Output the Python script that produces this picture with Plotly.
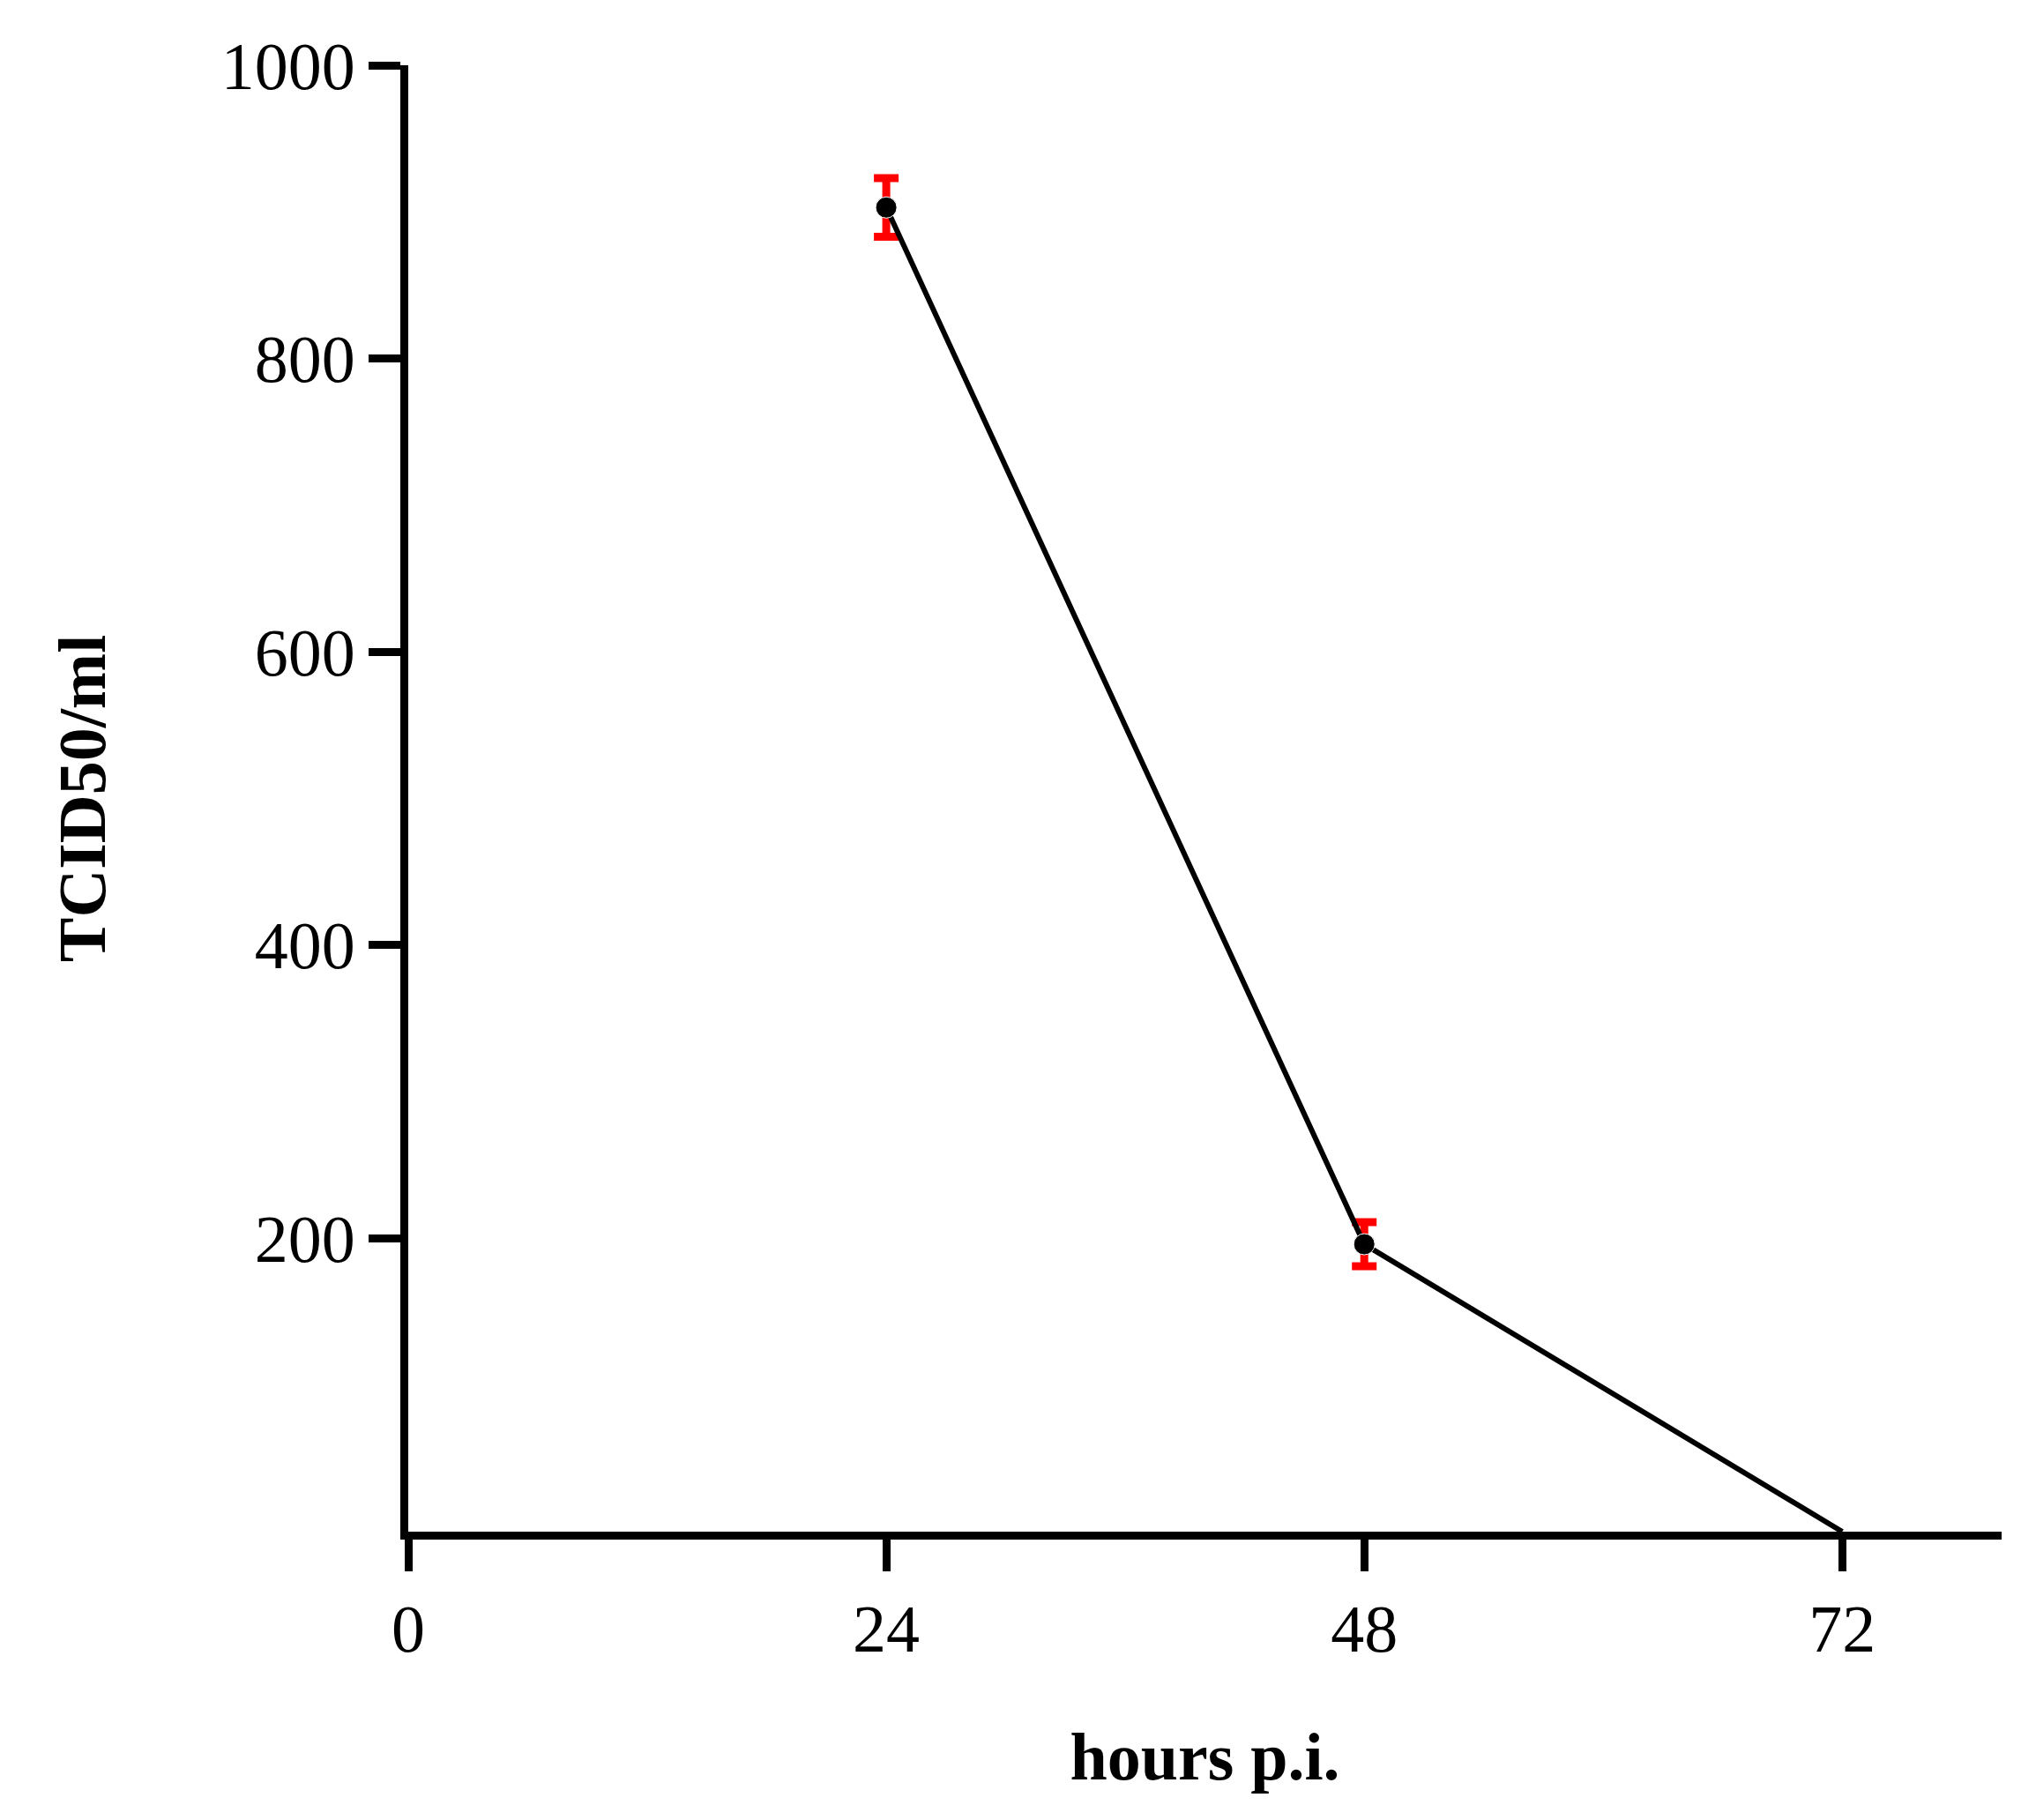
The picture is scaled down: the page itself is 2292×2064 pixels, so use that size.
import plotly.graph_objects as go

# data
hours = [24, 48, 72]
tcid50 = [903, 196, 0]
err = [20, 15, 0]

fig = go.Figure()

# red error bars (drawn first, under the points)
fig.add_trace(go.Scatter(
    x = hours[:2],
    y = tcid50[:2],
    mode = "markers",
    marker = dict(size = 1, color = "red", opacity = 0),
    error_y = dict(type = "data", array = err[:2], color = "red", thickness = 9, width = 14),
    showlegend = False))

# line with black points
fig.add_trace(go.Scatter(
    x = hours,
    y = tcid50,
    mode = "lines+markers",
    line = dict(color = "black", width = 6),
    marker = dict(color = "black", size = [24, 24, 0], opacity = 1),
    cliponaxis = False,
    showlegend = False))

font_family = "Liberation Serif, DejaVu Serif, serif"

fig.update_xaxes(
    range = [0, 80],
    tickvals = [0, 24, 48, 72],
    ticks = "outside", ticklen = 36, tickwidth = 9, tickcolor = "black",
    showline = True, linewidth = 9, linecolor = "black",
    showgrid = False, zeroline = False,
    tickfont = dict(size = 76, color = "black", family = font_family),
    title = dict(text = "<b>hours p.i.</b>", standoff = 80,
                 font = dict(size = 76, color = "black", family = font_family)))

fig.update_yaxes(
    range = [0, 1000],
    tickvals = [200, 400, 600, 800, 1000],
    ticks = "outside", ticklen = 36, tickwidth = 9, tickcolor = "black",
    showline = True, linewidth = 9, linecolor = "black",
    showgrid = False, zeroline = False,
    tickfont = dict(size = 76, color = "black", family = font_family),
    title = dict(text = "<b>TCID50/ml</b>", standoff = 110,
                 font = dict(size = 76, color = "black", family = font_family)))

fig.update_layout(
    width = 2292, height = 2064,
    margin = dict(l = 455, r = 30, t = 66, b = 335),
    plot_bgcolor = "white", paper_bgcolor = "white")

fig.write_html("out.html")
